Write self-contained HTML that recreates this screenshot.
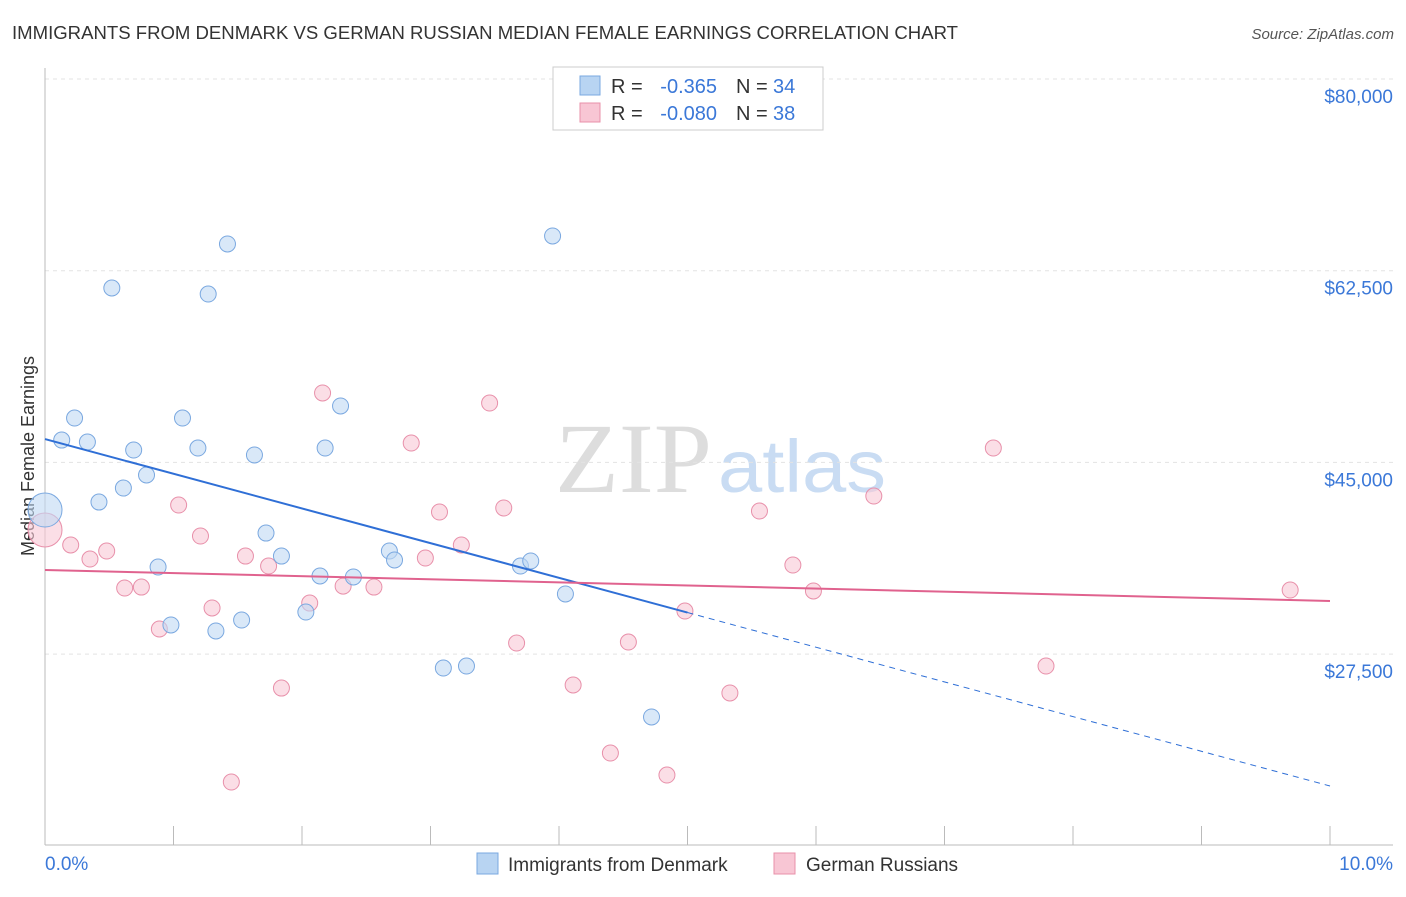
<!DOCTYPE html>
<html><head><meta charset="utf-8"><style>
body{margin:0;background:#fff;font-family:"Liberation Sans",sans-serif}
</style></head><body>
<svg width="1406" height="892" id="c" xmlns="http://www.w3.org/2000/svg" font-family="Liberation Sans, sans-serif">
<text x="12" y="39" font-size="18" fill="#333" textLength="946" lengthAdjust="spacingAndGlyphs">IMMIGRANTS FROM DENMARK VS GERMAN RUSSIAN MEDIAN FEMALE EARNINGS CORRELATION CHART</text>
<text x="1394" y="39" font-size="15" fill="#555" text-anchor="end" font-style="italic">Source: ZipAtlas.com</text>
<text x="555" y="492" font-size="100" fill="#ddd" font-family="Liberation Serif, serif" textLength="157" lengthAdjust="spacingAndGlyphs">ZIP</text>
<text x="718" y="492" font-size="74" fill="#c9dcf3" textLength="168" lengthAdjust="spacingAndGlyphs">atlas</text>
<text transform="translate(34,456) rotate(-90)" font-size="18" fill="#333" text-anchor="middle">Median Female Earnings</text>
<g id="grid"></g><g id="pts"></g>
<g>
<rect x="553" y="67" width="270" height="63" fill="#fff" stroke="#ccc"/>
<rect x="580" y="76" width="20" height="19" fill="#b8d4f2" stroke="#7aa8e0"/>
<rect x="580" y="103" width="20" height="19" fill="#f8c6d4" stroke="#e890aa"/>
<text x="611" y="93" font-size="20" fill="#333">R =</text>
<text x="717" y="93" font-size="20" fill="#3b78d8" text-anchor="end">-0.365</text>
<text x="736" y="93" font-size="20" fill="#333">N =</text>
<text x="773" y="93" font-size="20" fill="#3b78d8">34</text>
<text x="611" y="120" font-size="20" fill="#333">R =</text>
<text x="717" y="120" font-size="20" fill="#3b78d8" text-anchor="end">-0.080</text>
<text x="736" y="120" font-size="20" fill="#333">N =</text>
<text x="773" y="120" font-size="20" fill="#3b78d8">38</text>
</g>
<g>
<rect x="477" y="853" width="21" height="21" fill="#b8d4f2" stroke="#7aa8e0"/>
<text x="508" y="871" font-size="19" fill="#333">Immigrants from Denmark</text>
<rect x="774" y="853" width="21" height="21" fill="#f8c6d4" stroke="#e890aa"/>
<text x="806" y="871" font-size="19" fill="#333">German Russians</text>
</g>
</svg>
<script>
const yTicks=[80000,62500,45000,27500];
const yTickLabels=["$80,000","$62,500","$45,000","$27,500"];
const xTickLabels=["0.0%","10.0%"];
const blueX=[0,0.13,0.23,0.33,0.42,0.52,0.61,0.69,0.79,0.88,0.98,1.07,1.19,1.27,1.33,1.42,1.53,1.63,1.72,1.84,2.03,2.14,2.18,2.30,2.40,2.68,2.72,3.10,3.28,3.70,3.78,3.95,4.05,4.72];
const blueY=[40650,47040,49050,46860,41380,60920,42660,46130,43850,35450,30160,49050,46310,60370,29610,64940,30610,45680,38550,36450,31340,34630,46310,50150,34540,36910,36090,26230,26410,35540,36000,65670,32990,21760];
const pinkX=[0,0.20,0.35,0.48,0.62,0.75,0.89,1.04,1.21,1.30,1.45,1.56,1.74,1.84,2.06,2.16,2.32,2.56,2.85,2.96,3.07,3.24,3.46,3.57,3.67,4.11,4.40,4.54,4.84,4.98,5.33,5.56,5.82,5.98,6.45,7.38,7.79,9.69];
const pinkY=[38830,37460,36180,36910,33530,33620,29790,41110,38280,31710,15820,36450,35540,24400,32160,51340,33710,33620,46770,36270,40470,37460,50420,40840,28510,24680,18470,28600,16460,31430,23950,40560,35630,33260,41930,46310,26410,33350];
const blueTrend=[47130,15460];
const pinkTrend=[35180,32350];
const NS="http://www.w3.org/2000/svg";
const X=v=>45+v*128.5, Y=v=>79+(80000-v)/17500*191.7;
function mk(t,a,p){const e=document.createElementNS(NS,t);for(const k in a)e.setAttribute(k,a[k]);p.appendChild(e);return e;}
const g=document.getElementById('grid'),P=document.getElementById('pts');
yTicks.forEach((v,i)=>{
 const l=mk('line',{x1:45,x2:1393,y1:Y(v),y2:Y(v),stroke:'#e3e3e3','stroke-dasharray':'4,4'},g);
 
 
 const t=mk('text',{x:1393,y:Y(v)+24,'font-size':19,fill:'#3b78d8','text-anchor':'end'},g);t.textContent=yTickLabels[i];
 
 
});
const ax=mk('line',{x1:45,x2:1393,y1:845,y2:845,stroke:'#bbb'},g);


const ay=mk('line',{x1:45,x2:45,y1:68,y2:845,stroke:'#bbb'},g);


for(let i=0;i<=10;i++){const t=mk('line',{x1:X(i),x2:X(i),y1:826,y2:845,stroke:'#bbb'},g);
 
 }
[[0,'start',45],[10,'end',1393]].forEach((d,i)=>{const t=mk('text',{x:d[2],y:870,'font-size':19,fill:'#3b78d8','text-anchor':d[1]},g);t.textContent=xTickLabels[i];
 
 });
function pts(xs,ys,f,s,n){xs.forEach((x,i)=>{const c=mk('circle',{cx:X(x),cy:Y(ys[i]),r:i==0?17:8,fill:f,'fill-opacity':0.6,stroke:s,'stroke-width':1},P);
 
 });}
pts(pinkX,pinkY,'#f9c8d6','#e890aa','german-russian-point');
pts(blueX,blueY,'#c0d8f4','#7aa8e0','denmark-point');
const bv=x=>blueTrend[0]+(blueTrend[1]-blueTrend[0])*x/10;
const b1=mk('line',{x1:X(0),y1:Y(bv(0)),x2:X(5),y2:Y(bv(5)),stroke:'#2f6fd6','stroke-width':2},P);


const b2=mk('line',{x1:X(5),y1:Y(bv(5)),x2:X(10),y2:Y(bv(10)),stroke:'#2f6fd6','stroke-width':1,'stroke-dasharray':'6,5'},P);


const p1=mk('line',{x1:X(0),y1:Y(pinkTrend[0]),x2:X(10),y2:Y(pinkTrend[1]),stroke:'#e0628e','stroke-width':2},P);


</script>
</body></html>
